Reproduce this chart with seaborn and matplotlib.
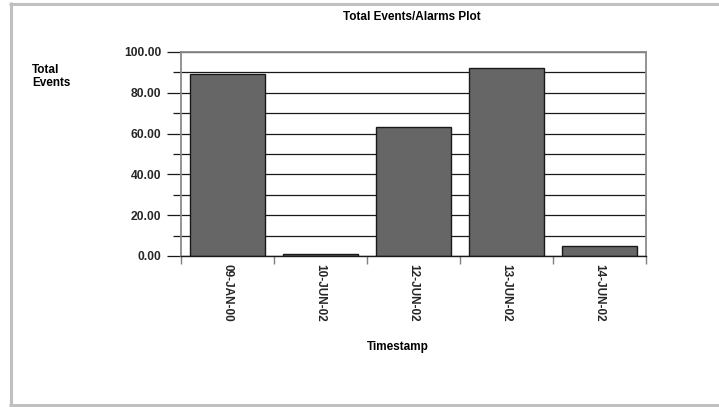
import matplotlib
matplotlib.use("Agg")
import matplotlib.pyplot as plt
from matplotlib.lines import Line2D
from matplotlib.ticker import MultipleLocator, FormatStrFormatter
import seaborn as sns
import pandas as pd

# Data
timestamps = ["09-JAN-00", "10-JUN-02", "12-JUN-02", "13-JUN-02", "14-JUN-02"]
total_events = [89, 1, 63, 92, 5]

sns.set_theme(style="white")
plt.rcParams["font.family"] = ["Liberation Sans", "DejaVu Sans"]
plt.rcParams["font.weight"] = "bold"

W, H = 719, 407
fig = plt.figure(figsize=(W / 100, H / 100), dpi=100)
fig.patch.set_facecolor("white")

# Plot area in pixel terms
x0, x1, y_top, y_bot = 181, 646, 52, 256
ax = fig.add_axes([x0 / W, 1 - y_bot / H, (x1 - x0) / W, (y_bot - y_top) / H])

df = pd.DataFrame({"Timestamp": timestamps, "Total Events": total_events})
sns.barplot(data=df, x="Timestamp", y="Total Events", color="#666666",
            saturation=1, width=0.8, edgecolor="#1a1a1a", linewidth=1.0, ax=ax)

ax.set_xlim(-0.5, len(timestamps) - 0.5)
ax.set_ylim(0, 100)

# Y axis: labelled ticks every 20, extra grid ticks in between
ax.yaxis.set_major_locator(MultipleLocator(20))
ax.yaxis.set_minor_locator(MultipleLocator(10))
ax.yaxis.set_major_formatter(FormatStrFormatter("%.2f"))
ax.set_axisbelow(True)
ax.grid(axis="y", which="both", color="#1a1a1a", linewidth=0.9)
ax.tick_params(axis="y", which="major", length=10, width=0.9, color="#1a1a1a",
               pad=4, labelsize=8.7, left=True)
ax.tick_params(axis="y", which="minor", length=6, width=0.9, color="#1a1a1a", left=True)

# X axis: tick marks on category boundaries, labels centred under bars
ax.set_xticks(range(len(timestamps)))
ax.set_xticklabels(timestamps, rotation=270, ha="center", va="top",
                   fontsize=8.5, fontweight="bold")
ax.set_xticks([i - 0.5 for i in range(len(timestamps) + 1)], minor=True)
ax.tick_params(axis="x", which="major", length=0, pad=6)
ax.tick_params(axis="x", which="minor", length=6, width=1.0, color="#808080", bottom=True)

for lbl in ax.get_yticklabels():
    lbl.set_fontweight("bold")

ax.set_xlabel("")
ax.set_ylabel("")

for side in ("left", "right", "top"):
    ax.spines[side].set_visible(True)
    ax.spines[side].set_color("#8a8a8a")
    ax.spines[side].set_linewidth(1.3)
ax.spines["bottom"].set_color("#1a1a1a")
ax.spines["bottom"].set_linewidth(1.0)

# Titles and axis captions
fig.text(412 / W, 1 - 17 / H, "Total Events/Alarms Plot", ha="center", va="center",
         fontsize=8.5, fontweight="bold", color="black")
fig.text(32 / W, 1 - 64 / H, "Total\nEvents", ha="left", va="top",
         fontsize=8.5, fontweight="bold", color="black", linespacing=1.15)
fig.text(398 / W, 1 - 347 / H, "Timestamp", ha="center", va="center",
         fontsize=8.5, fontweight="bold", color="black")

# Light grey frame around the panel
frame_kw = dict(color="#c0c0c0", linewidth=2.2, transform=fig.transFigure,
                solid_capstyle="butt")
fig.add_artist(Line2D([10.5 / W, 10.5 / W], [1 - 2 / H, 1 - 406 / H], **frame_kw))
fig.add_artist(Line2D([9 / W, 1.0], [1 - 3.5 / H, 1 - 3.5 / H], **frame_kw))
fig.add_artist(Line2D([9 / W, 1.0], [1 - 404.5 / H, 1 - 404.5 / H], **frame_kw))

fig.savefig("out.png", dpi=100, facecolor="white")
